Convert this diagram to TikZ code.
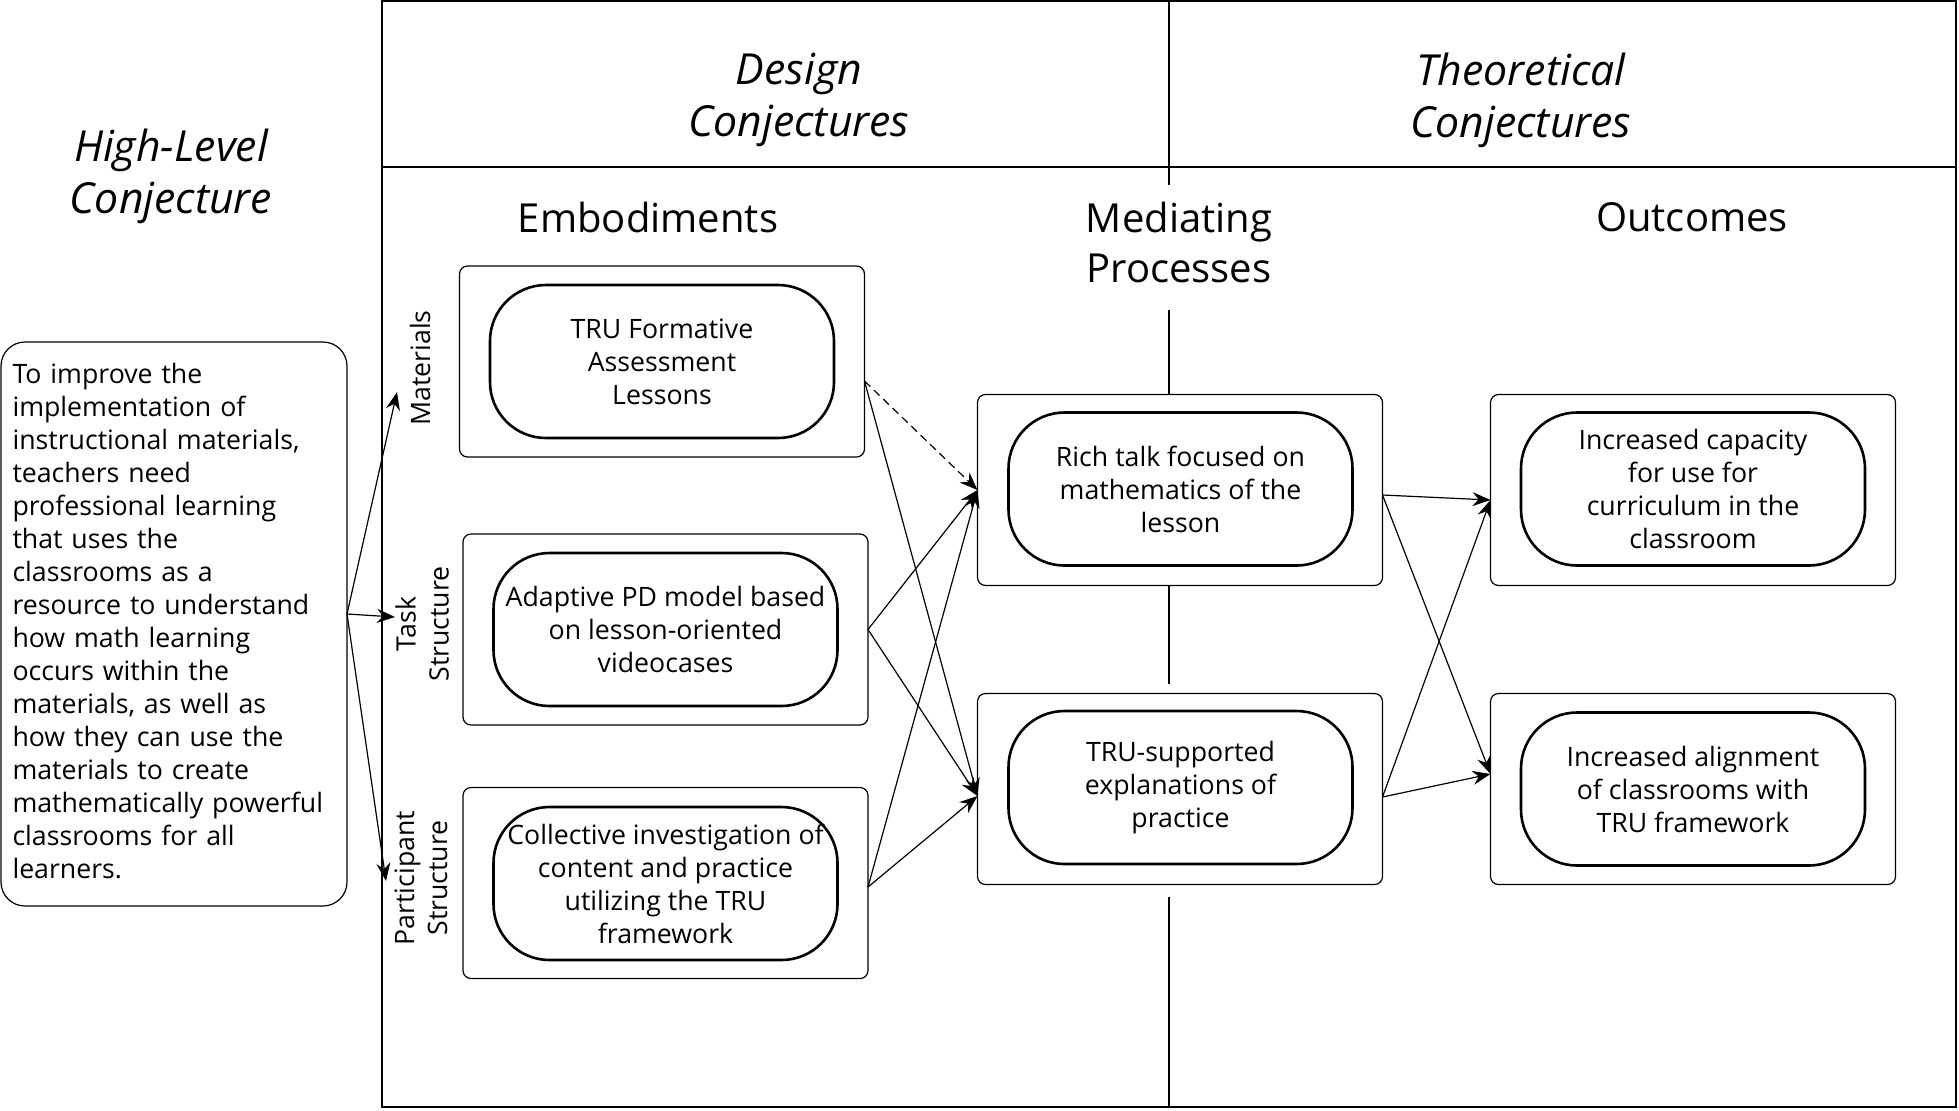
\documentclass[tikz,border=0pt]{standalone}
\usepackage{fontspec}
\setmainfont{Open Sans}
\usetikzlibrary{arrows.meta,calc}
\begin{document}
\begin{tikzpicture}[x=0.5pt,y=-0.5pt,
 every node/.style={inner sep=0pt, outer sep=0pt},
 outerbox/.style={draw, line width=0.6pt, rounded corners=4pt, minimum width=202.5pt, minimum height=95.5pt},
 pill/.style={draw, line width=1.3pt, rounded corners=28pt, minimum width=172pt, minimum height=76.5pt, align=center, font=\fontsize{13.35}{16.5}\selectfont},
 head/.style={font=\fontsize{20}{25}\selectfont, align=center},
 ihead/.style={font=\itshape\fontsize{21.4}{26}\selectfont, align=center},
 side/.style={rotate=90, align=center, font=\fontsize{13.35}{16.5}\selectfont},
 conn/.style={-{Stealth[length=9pt,width=7pt,inset=3pt]}, line width=0.6pt},
 cline/.style={line width=1.1pt},
]
\useasboundingbox (0,0) rectangle (1959,1110);

% frame
\draw[line width=0.9pt] (382,1) rectangle (1956,1107);
\draw[line width=0.6pt] (382,167) -- (1956,167);

% headers
\node[ihead] (hlc) at (171,176) {High-Level\\Conjecture};
\node[ihead] (dc) at (799,100) {Design\\Conjectures};
\node[ihead] (tc) at (1521,100) {Theoretical\\Conjectures};
\node[head] (hemb) at (648,217) {Embodiments};
\node[head] (hmed) at (1179,242) {Mediating\\Processes};
\node[head] (hout) at (1692,217) {Outcomes};

% left box
\node[draw, line width=0.6pt, rounded corners=12pt, minimum width=173pt, minimum height=282pt,
      inner xsep=5.5pt, text width=162pt, align=left, font=\fontsize{13.35}{16.5}\selectfont]
  (hl) at (174,624) {};
\node[text width=162pt, align=left, font=\fontsize{13.35}{16.5}\selectfont]
  (hlt) at (174.5,621.5) {To improve the\\implementation of\\instructional materials,\\teachers need\\professional learning\\that uses the\\classrooms as a\\resource to understand\\how math learning\\occurs within the\\materials, as well as\\how they can use the\\materials to create\\mathematically powerful\\classrooms for all\\learners.};

% side labels
\node[side] (lmat) at (420,368) {Materials};
\node[side] (ltask) at (422,624) {Task\\Structure};
\node[side] (lpart) at (421,878) {Participant\\Structure};

% embodiments
\node[outerbox] (emb1) at (662,361.5) {};
\node[pill] (e1) at (662,361.5) {TRU Formative\\Assessment\\Lessons};
\node[outerbox] (emb2) at (665.5,629.5) {};
\node[pill] (e2) at (665.5,629.5) {Adaptive PD model based\\on lesson-oriented\\videocases};
\node[outerbox] (emb3) at (665.5,883) {};
\node[pill] (e3) at (665.5,883.5) {Collective investigation of\\content and practice\\utilizing the TRU\\framework};

% mediating
\node[outerbox] (m1) at (1180,490) {};
\node[pill] (mi1) at (1180.5,489) {Rich talk focused on\\mathematics of the\\lesson};
\node[outerbox] (m2) at (1180,789) {};
\node[pill] (mi2) at (1180.5,787.5) {TRU-supported\\explanations of\\practice};

% outcomes
\node[outerbox] (o1) at (1693,490) {};
\node[pill] (oi1) at (1693,489) {Increased capacity\\for use for\\curriculum in the\\classroom};
\node[outerbox] (o2) at (1693,789) {};
\node[pill] (oi2) at (1693,789) {Increased alignment\\of classrooms with\\TRU framework};

% center vertical line
\draw[cline] (1169,1) -- (1169,185);
\draw[cline] (1169,310) -- (m1.north -| 1169,0);
\draw[cline] (m1.south -| 1169,0) -- (1169,684);
\draw[cline] (1169,897) -- (1169,1107);

% coordinates for free ends
\coordinate (amat) at (397,392);
\coordinate (atask) at (395,617);
\coordinate (apart) at (386,881);

% arrows from high-level conjecture
\draw[conn] ([yshift=5pt]hl.east) -- (amat);
\draw[conn] ([yshift=5pt]hl.east) -- (atask);
\draw[conn] ([yshift=5pt]hl.east) -- (apart);

% embodiments -> mediating
\draw[conn, dashed, dash pattern=on 4pt off 2.5pt] ([yshift=-9.75pt]emb1.east) -- (m1.west);
\draw[conn] ([yshift=-9.75pt]emb1.east) -- ([yshift=-3.5pt]m2.west);
\draw[conn] (emb2.east) -- (m1.west);
\draw[conn] (emb2.east) -- ([yshift=-3.5pt]m2.west);
\draw[conn] ([yshift=-2pt]emb3.east) -- (m1.west);
\draw[conn] ([yshift=-2pt]emb3.east) -- ([yshift=-3.5pt]m2.west);

% mediating -> outcomes
\draw[conn] ([yshift=-2.5pt]m1.east) -- ([yshift=-5pt]o1.west);
\draw[conn] ([yshift=-2.5pt]m1.east) -- ([yshift=7.5pt]o2.west);
\draw[conn] ([yshift=-4pt]m2.east) -- ([yshift=-5pt]o1.west);
\draw[conn] ([yshift=-4pt]m2.east) -- ([yshift=7.5pt]o2.west);
\end{tikzpicture}
\end{document}
